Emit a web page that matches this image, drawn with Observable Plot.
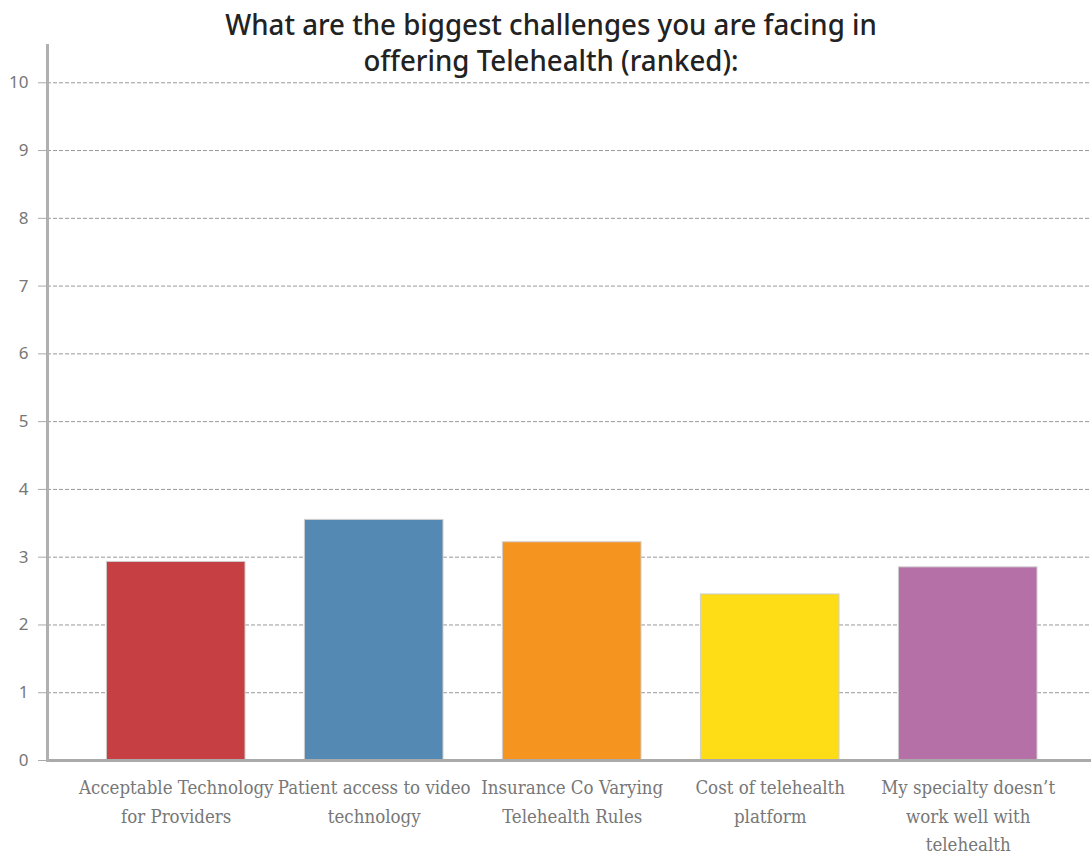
<!DOCTYPE html>
<html>
<head>
<meta charset="utf-8">
<script src="https://cdn.jsdelivr.net/npm/d3@7"></script>
<script src="https://cdn.jsdelivr.net/npm/@observablehq/plot@0.6"></script>
<style>
  html, body { margin: 0; padding: 0; background: #fff; }
  #wrap { position: relative; width: 1091px; height: 854px; }
  #title { position: absolute; left: 0; top: 6px; width: 1102px; text-align: center;
    font-family: "Noto Sans", sans-serif; font-size: 28.5px; line-height: 36px; color: #222; margin: 0; font-weight: 500; z-index: 2;
    transform: scaleX(0.97); transform-origin: 551px 0; }
</style>
</head>
<body>
<div id="wrap">
  <h2 id="title">What are the biggest challenges you are facing in<br>offering Telehealth (ranked):</h2>
  <div id="chart"></div>
</div>
<script>
const categories = [
  "Acceptable Technology for Providers",
  "Patient access to video technology",
  "Insurance Co Varying Telehealth Rules",
  "Cost of telehealth platform",
  "My specialty doesn’t work well with telehealth"
];
const tickLabels = [
  "Acceptable Technology\nfor Providers",
  "Patient access to video\ntechnology",
  "Insurance Co Varying\nTelehealth Rules",
  "Cost of telehealth\nplatform",
  "My specialty doesn’t\nwork well with\ntelehealth"
];
const values = [2.93, 3.55, 3.22, 2.45, 2.85];
const colors = ["#C64043", "#5489B4", "#F69420", "#FEDD17", "#B570A8"];
const yTicks = [0, 1, 2, 3, 4, 5, 6, 7, 8, 9, 10];

const data = categories.map((c, i) => ({category: c, value: values[i], color: colors[i]}));
const labelOf = new Map(categories.map((c, i) => [c, tickLabels[i]]));

const chart = Plot.plot({
  width: 1091,
  height: 854,
  marginLeft: 47,
  marginRight: 0,
  marginTop: 45,
  marginBottom: 94,
  style: {background: "#fff", overflow: "visible"},
  x: {domain: categories, range: [47, 1096.4], paddingInner: 0.3, paddingOuter: 0.3, round: false},
  y: {domain: [0, 10.55], ticks: yTicks},
  marks: [
    Plot.gridY(yTicks, {stroke: "#999", strokeOpacity: 1, strokeDasharray: "4,2", strokeWidth: 1}),
    Plot.barY(data, {x: "category", y: "value", fill: "color", stroke: "#cfcfcf", strokeWidth: 1}),
    Plot.ruleY([0], {stroke: "#aaa", strokeWidth: 3}),
    Plot.frame({anchor: "left", stroke: "#b0b0b0", strokeWidth: 3}),
    Plot.axisY(yTicks, {tickSize: 9, tickPadding: 10, stroke: "#aaa", fill: "#777", fontSize: 17,
      fontFamily: "Noto Sans, sans-serif", label: null, tickFormat: d => String(d)}),
    Plot.axisX({tickSize: 0, tickPadding: 14, fill: "#777", fontSize: 18.5, lineHeight: 1.52,
      fontFamily: "DejaVu Serif Condensed, DejaVu Serif, serif", label: null,
      tickFormat: d => labelOf.get(d)})
  ]
});
document.getElementById("chart").appendChild(chart);
</script>
</body>
</html>
